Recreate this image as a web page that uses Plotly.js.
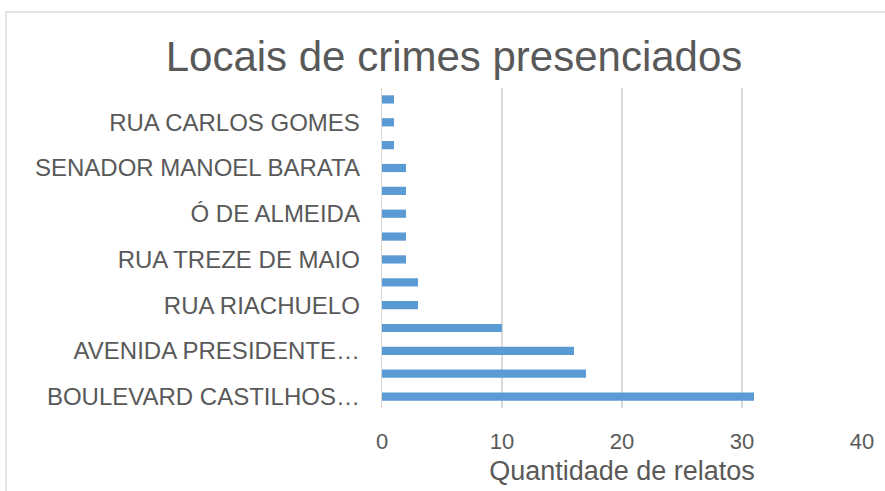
<!DOCTYPE html>
<html>
<head>
<meta charset="utf-8">
<script src="https://cdn.plot.ly/plotly-3.0.1.min.js"></script>
<style>
  html, body { margin: 0; padding: 0; background: #fff; }
  #chart { width: 885px; height: 491px; }
</style>
</head>
<body>
<div id="chart"></div>
<script>
// Categories from bottom to top (labels Excel did not show are left blank)
var locais = [
  "BOULEVARD CASTILHOS…", "", "AVENIDA PRESIDENTE…", "", "RUA RIACHUELO", "",
  "RUA TREZE DE MAIO", "", "Ó DE ALMEIDA", "", "SENADOR MANOEL BARATA", "",
  "RUA CARLOS GOMES", ""
];
var relatos = [31, 17, 16, 10, 3, 3, 2, 2, 2, 2, 2, 1, 1, 1];
var xTicks = [0, 10, 20, 30, 40];

var positions = locais.map(function (_, i) { return i; });
var shownVals = [], shownText = [];
locais.forEach(function (l, i) { if (l) { shownVals.push(i); shownText.push(l); } });

var font = "Liberation Sans, Arial, sans-serif";
var grey = "#595959";

var trace = {
  type: "bar",
  orientation: "h",
  x: relatos,
  y: positions,
  marker: { color: "#5b9bd5" },
  hoverinfo: "x+y"
};

var layout = {
  width: 885,
  height: 491,
  paper_bgcolor: "#ffffff",
  plot_bgcolor: "#ffffff",
  margin: { l: 382, r: 23, t: 88, b: 83 },
  bargap: 0.64,
  showlegend: false,
  title: {
    text: "Locais de crimes presenciados",
    font: { family: font, size: 42, color: grey },
    x: 0.513, xanchor: "center", xref: "container",
    y: 0.885, yanchor: "middle", yref: "container"
  },
  xaxis: {
    range: [0, 40],
    tickvals: xTicks,
    ticktext: xTicks.map(String),
    showgrid: true,
    gridcolor: "#d9d9d9",
    gridwidth: 1.3,
    zeroline: false,
    showline: false,
    ticks: "outside",
    ticklen: 14,
    tickcolor: "rgba(0,0,0,0)",
    tickfont: { family: font, size: 22, color: grey },
    title: {
      text: "Quantidade de relatos",
      font: { family: font, size: 27, color: grey },
      standoff: 7
    },
    fixedrange: true
  },
  yaxis: {
    range: [-0.5, 13.5],
    tickvals: shownVals,
    ticktext: shownText,
    showgrid: false,
    zeroline: false,
    showline: true,
    linecolor: "#d9d9d9",
    linewidth: 1.3,
    ticks: "outside",
    ticklen: 16,
    tickcolor: "rgba(0,0,0,0)",
    tickfont: { family: font, size: 24, color: grey },
    fixedrange: true
  },
  shapes: [{
    type: "rect",
    xref: "paper", yref: "paper",
    x0: (6 - 382) / 480, x1: 1.2,
    y0: -0.4, y1: (408 - 12) / 320,
    line: { color: "#d9d9d9", width: 1.3 },
    fillcolor: "rgba(0,0,0,0)",
    layer: "below"
  }]
};

Plotly.newPlot("chart", [trace], layout, { displayModeBar: false, staticPlot: true });
</script>
</body>
</html>
